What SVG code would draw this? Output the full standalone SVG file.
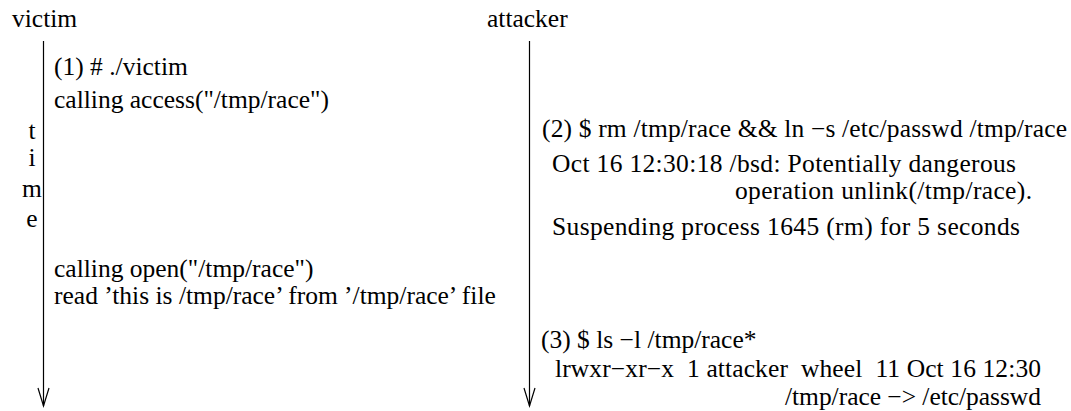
<svg xmlns="http://www.w3.org/2000/svg" width="1071" height="411" viewBox="0 0 1071 411">
<style>
text{font-family:"Liberation Serif","Times New Roman",serif;font-size:25.5px;fill:#000;white-space:pre}
.ln{stroke:#000;stroke-width:1.2;fill:none}
.c{text-anchor:middle}
</style>
<rect width="1071" height="411" fill="#fff"/>
<g id="connectors">
<path class="ln" d="M43.5 41V406"/>
<path class="ln" d="M38 388L43.5 406L49 388"/>
<path class="ln" d="M529.5 41V406"/>
<path class="ln" d="M524 388L529.5 406L535 388"/>
</g>
<g id="victim">
<text x="12" y="27">victim</text>
<text x="54" y="75">(1) # ./victim</text>
<text x="54" y="108">calling access("/tmp/race")</text>
<text x="54" y="277">calling open("/tmp/race")</text>
<text x="54" y="304">read ’this is /tmp/race’ from ’/tmp/race’ file</text>
</g>
<g id="time">
<text class="c" x="32" y="139">t</text>
<text class="c" x="32" y="166">i</text>
<text class="c" x="32" y="197">m</text>
<text class="c" x="32" y="227">e</text>
</g>
<g id="attacker">
<text x="487" y="27">attacker</text>
<text x="542" y="137" textLength="525">(2) $ rm /tmp/race &amp;&amp; ln −s /etc/passwd /tmp/race</text>
<text x="552" y="172" textLength="464">Oct 16 12:30:18 /bsd: Potentially dangerous</text>
<text x="735" y="199" textLength="297">operation unlink(/tmp/race).</text>
<text x="552" y="235" textLength="468">Suspending process 1645 (rm) for 5 seconds</text>
<text x="541" y="348">(3) $ ls −l /tmp/race*</text>
<text x="555" y="377" textLength="486">lrwxr−xr−x  1 attacker  wheel  11 Oct 16 12:30</text>
<text x="785" y="405" textLength="256">/tmp/race −&gt; /etc/passwd</text>
</g>
</svg>
